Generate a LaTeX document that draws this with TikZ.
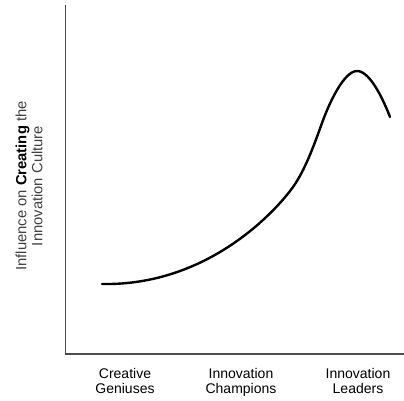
\documentclass[tikz,border=0pt]{standalone}
\usepackage{fontspec}
\setmainfont{Liberation Sans}
\begin{document}
\begin{tikzpicture}[x=1pt,y=-1pt,
  axisline/.style={draw=black!70,line width=1.3pt},
  curveline/.style={draw=black,line width=2.4pt,line cap=round},
  catlabel/.style={font=\fontsize{14}{15}\selectfont,align=center,inner sep=0pt,anchor=north},
  ylabel/.style={font=\fontsize{14.8}{16}\selectfont,align=center,inner sep=0pt,rotate=90,color=black!75}]
\useasboundingbox (0,0) rectangle (404,401);
\coordinate (top) at (65.5,5);
\coordinate (origin) at (65.5,354);
\coordinate (right) at (404,354);
\coordinate (c0) at (102,284);
\coordinate (c1) at (293,187);
\coordinate (c2) at (322,123);
\coordinate (c3) at (357,71);
\coordinate (c4) at (390,117);
\draw[axisline] (top) -- (origin) -- (right);
\draw[curveline] (c0) .. controls (208,286) and (276,210.8) .. (c1)
  .. controls (305,170.2) and (314,145.4) .. (c2)
  .. controls (329,103.4) and (344,71) .. (c3)
  .. controls (371,71) and (385,104) .. (c4);
\node[catlabel] (cg) at (125,368.5) {Creative\\Geniuses};
\node[catlabel] (ic) at (241,368.5) {Innovation\\Champions};
\node[catlabel] (il) at (358,368.5) {Innovation\\Leaders};
\node[ylabel] (yl) at (29,186) {Influence on \textcolor{black}{\textbf{Creating}} the\\Innovation Culture};
\end{tikzpicture}
\end{document}
